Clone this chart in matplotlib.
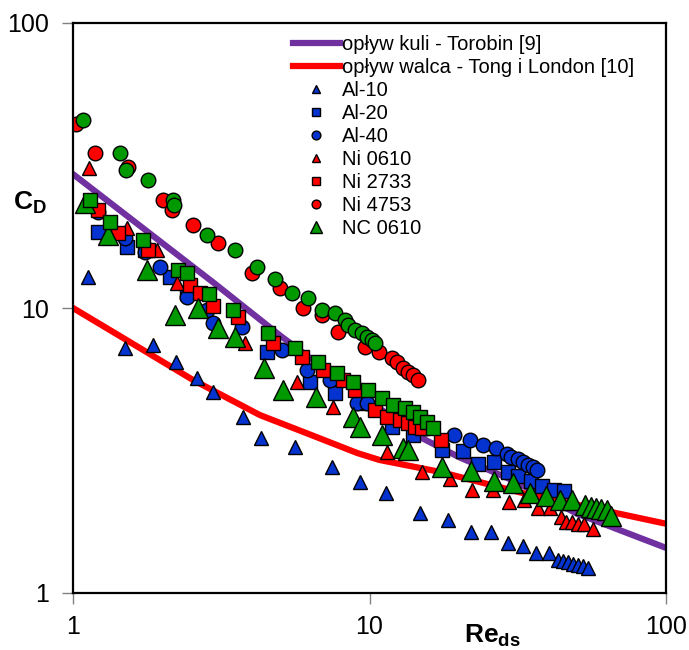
import matplotlib.pyplot as plt
from matplotlib.ticker import FixedLocator, NullLocator, FixedFormatter

plt.rcParams['font.family'] = ['Liberation Sans', 'DejaVu Sans']
plt.rcParams['mathtext.fontset'] = 'custom'
plt.rcParams['mathtext.rm'] = 'Liberation Sans'
plt.rcParams['mathtext.bf'] = 'Liberation Sans:bold'

# reference curves
sphere_re = [1, 1.5, 2, 3, 5, 7, 10, 15, 20, 30, 50, 70, 100]
sphere_cd = [29.5, 21.3, 16.9, 12.2, 8.0, 6.15, 4.7, 3.5, 3.0, 2.5, 1.9, 1.66, 1.44]
cyl_re = [1, 1.5, 2.54, 4.27, 6, 9.08, 10.8, 17.3, 33, 100]
cyl_cd = [10, 7.77, 5.59, 4.21, 3.67, 3.10, 2.93, 2.66, 2.24, 1.75]

# measurements
al10_re = [1.12, 1.50, 1.86, 2.23, 2.62, 2.97, 3.74, 4.31, 5.61, 7.47, 9.29, 11.4, 14.8, 18.4,
           22.0, 25.7, 29.3, 33.0, 36.5, 40.3, 43.2, 45.0, 46.7, 48.6, 50.5, 52.5, 54.6]
al10_cd = [12.85, 7.24, 7.42, 6.47, 5.68, 5.07, 4.15, 3.50, 3.25, 2.77, 2.45, 2.24, 1.91, 1.80,
           1.64, 1.64, 1.50, 1.46, 1.38, 1.38, 1.31, 1.30, 1.28, 1.26, 1.25, 1.24, 1.22]

al20_re = [1.21, 1.52, 1.75, 2.12, 2.42, 4.51, 6.30, 7.65, 9.43, 11.9, 14.0, 17.6, 20.7, 23.2,
           26.3, 29.3, 31.7, 35.0, 38.2, 41.9, 45.3]
al20_cd = [18.5, 16.4, 16.0, 12.8, 11.3, 7.01, 5.50, 5.03, 4.64, 3.82, 3.58, 3.18, 3.15, 2.84,
           2.88, 2.66, 2.57, 2.47, 2.37, 2.30, 2.28]

al40_re = [1.21, 1.50, 1.75, 1.97, 2.42, 2.83, 2.97, 3.72, 5.07, 6.15, 7.36, 9.08, 9.81, 12.5,
           15.4, 19.3, 21.8, 24.1, 26.7, 29.1, 30.0, 31.7, 33.0, 34.2, 35.6, 36.7]
al40_cd = [21.7, 17.6, 15.7, 13.9, 10.9, 9.84, 8.86, 8.58, 7.12, 6.06, 5.59, 4.64, 4.64, 4.21,
           3.79, 3.58, 3.44, 3.31, 3.23, 3.07, 3.00, 2.95, 2.88, 2.81, 2.77, 2.70]

ni0610_re = [1.13, 1.52, 1.92, 2.24, 3.80, 5.69, 7.53, 11.5, 15.0, 18.7, 22.2, 26.1, 29.5, 33.2,
             37.0, 40.6, 44.3, 46.0, 48.2, 50.5, 52.9, 56.7]
ni0610_cd = [31.0, 19.1, 16.0, 12.2, 7.54, 5.50, 4.49, 3.12, 2.66, 2.51, 2.30, 2.30, 2.09, 2.12,
             1.99, 1.99, 1.85, 1.77, 1.77, 1.75, 1.75, 1.68]

ni2733_re = [1.21, 1.42, 1.79, 2.48, 2.68, 2.97, 3.60, 4.73, 5.92, 6.97, 8.14, 8.93, 10.4, 11.5,
             12.7, 13.5, 14.2, 15.0, 17.4]
ni2733_cd = [22.1, 18.3, 16.0, 12.0, 11.3, 10.2, 9.30, 7.54, 6.73, 6.06, 5.59, 5.16, 4.39, 4.15,
             4.05, 3.95, 3.82, 3.79, 3.44]

ni4753_re = [1.02, 1.19, 1.53, 2.01, 2.16, 2.54, 3.08, 4.01, 4.99, 5.97, 6.92, 7.83, 9.66, 10.8,
             11.9, 12.4, 13.0, 13.5, 14.0, 14.6]
ni4753_cd = [44.2, 35.0, 31.2, 23.9, 22.1, 19.6, 16.9, 13.3, 11.8, 10.0, 9.45, 8.24, 7.30, 7.01,
             6.68, 6.47, 6.16, 5.96, 5.82, 5.59]

nc0610_re = [1.10, 1.31, 1.78, 2.21, 2.64, 3.08, 3.52, 4.41, 5.11, 6.60, 8.80, 9.29, 11.0, 13.0,
             13.5, 17.6, 22.0, 26.3, 30.5, 34.8, 39.4, 43.9, 48.2, 53.3, 55.8, 58.1, 60.4, 63.2, 65.3]
nc0610_cd = [23.4, 18.0, 13.6, 9.45, 10.0, 8.51, 7.91, 6.16, 5.16, 4.87, 4.15, 3.82, 3.58, 3.23,
             3.18, 2.77, 2.68, 2.47, 2.43, 2.24, 2.19, 2.12, 2.12, 2.04, 2.00, 1.99, 1.97, 1.96, 1.86]

nc2733_re = [1.14, 1.33, 1.72, 2.26, 2.42, 2.87, 3.46, 4.55, 5.61, 6.70, 7.77, 8.80, 9.88, 11.0,
             12.0, 13.2, 14.0, 14.8, 15.6, 16.4]
nc2733_cd = [23.9, 20.0, 17.3, 13.6, 13.3, 11.2, 9.84, 8.17, 7.24, 6.47, 5.91, 5.50, 5.16, 4.83,
             4.57, 4.46, 4.32, 4.15, 3.98, 3.79]

nc4753_re = [1.08, 1.44, 1.51, 1.79, 2.17, 2.19, 2.83, 3.52, 4.17, 4.80, 5.48, 6.20, 6.92, 7.65,
             8.27, 8.46, 8.93, 9.43, 9.81, 10.2, 10.4]
nc4753_cd = [45.7, 35.0, 30.5, 28.1, 23.9, 23.0, 18.0, 16.0, 13.9, 12.6, 11.3, 10.8, 9.84, 9.60,
             9.08, 8.72, 8.37, 8.17, 7.91, 7.72, 7.54]

BLUE = '#0433D0'
RED = '#FF0000'
GREEN = '#009A00'
PURPLE = '#7030A0'

fig = plt.figure(figsize=(6.89, 6.5), dpi=100)
ax = fig.add_axes([73 / 689, 1 - 593 / 650, (666 - 73) / 689, (593 - 23) / 650])

ax.plot(sphere_re, sphere_cd, color=PURPLE, lw=4.5, label='opływ kuli - Torobin [9]', zorder=1)
ax.plot(cyl_re, cyl_cd, color=RED, lw=4.5, label='opływ walca - Tong i London [10]', zorder=1)

mk = dict(linestyle='none', markeredgecolor='black', markeredgewidth=1.0)
ax.plot(al10_re, al10_cd, '^', color=BLUE, ms=10, label='Al-10', **mk)
ax.plot(al20_re, al20_cd, 's', color=BLUE, ms=10, label='Al-20', **mk)
ax.plot(al40_re, al40_cd, 'o', color=BLUE, ms=10.5, label='Al-40', **mk)
ax.plot(ni0610_re, ni0610_cd, '^', color=RED, ms=10, label='Ni 0610', **mk)
ax.plot(ni2733_re, ni2733_cd, 's', color=RED, ms=10, label='Ni 2733', **mk)
ax.plot(ni4753_re, ni4753_cd, 'o', color=RED, ms=10.5, label='Ni 4753', **mk)
ax.plot(nc0610_re, nc0610_cd, '^', color=GREEN, ms=14, label='NC 0610', **mk)
ax.plot(nc2733_re, nc2733_cd, 's', color=GREEN, ms=10.5, label='_nolegend_', **mk)
ax.plot(nc4753_re, nc4753_cd, 'o', color=GREEN, ms=10.5, label='_nolegend_', **mk)

ax.set_xscale('log')
ax.set_yscale('log')
ax.set_xlim(1, 100)
ax.set_ylim(1, 100)
ax.xaxis.set_major_locator(FixedLocator([1, 10, 100]))
ax.yaxis.set_major_locator(FixedLocator([1, 10, 100]))
ax.xaxis.set_major_formatter(FixedFormatter(['1', '10', '100']))
ax.yaxis.set_major_formatter(FixedFormatter(['1', '10', '100']))
ax.xaxis.set_minor_locator(NullLocator())
ax.yaxis.set_minor_locator(NullLocator())
ax.tick_params(axis='both', direction='out', length=8, width=1, color='#808080',
               labelsize=18, labelcolor='black')
ax.tick_params(axis='y', pad=9)
ax.tick_params(axis='x', pad=8)
for s in ax.spines.values():
    s.set_linewidth(1.6)
    s.set_color('black')

fig.text(30 / 689, 1 - 203 / 650, r'$\mathbf{C_D}$', fontsize=19, ha='center', va='center')
fig.text(492 / 689, 1 - 636 / 650, r'$\mathbf{Re_{ds}}$', fontsize=19, ha='center', va='center')

ax.legend(loc='upper left', bbox_to_anchor=(293 / 689, 1 - 35 / 650), bbox_transform=fig.transFigure,
          frameon=False, fontsize=14.5, handlelength=2.33, handletextpad=0.1, labelspacing=0.2,
          borderpad=0, borderaxespad=0, markerscale=0.6)

fig.savefig('out.png', dpi=100)
